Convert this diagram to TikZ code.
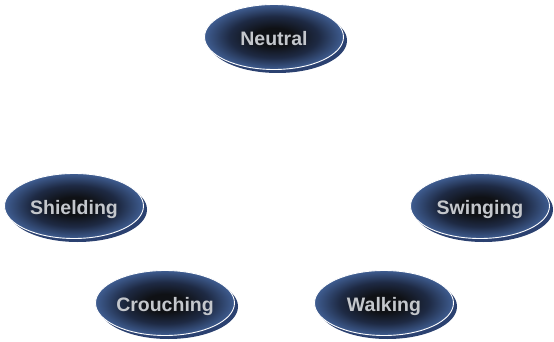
\documentclass[tikz,border=0pt]{standalone}
\usepackage{fontspec}
\setmainfont{Liberation Sans}
\usetikzlibrary{shapes.geometric}
\definecolor{edgeblue}{HTML}{3F5D91}
\definecolor{coreblack}{HTML}{0F1115}
\definecolor{midblue}{HTML}{1E2A44}
\definecolor{backblue}{HTML}{2B4170}
\definecolor{labelgrey}{HTML}{C4C7CC}
\pgfdeclareradialshading{ellshade}{\pgfpoint{0bp}{0bp}}{color(0bp)=(coreblack); color(7bp)=(coreblack); color(16bp)=(midblue); color(25bp)=(edgeblue); color(50bp)=(edgeblue)}
\tikzset{
  backell/.style={ellipse, minimum width=139pt, minimum height=65pt, inner sep=0pt, fill=backblue},
  state/.style={ellipse, minimum width=139pt, minimum height=65pt, inner sep=0pt,
    shading=ellshade, draw=white, line width=0.9pt, text height=17pt, text depth=0pt,
    text=labelgrey, font=\fontsize{19.5}{21}\selectfont\bfseries},
}
\begin{document}
\begin{tikzpicture}[x=1pt,y=-1pt]
\useasboundingbox (0,0) rectangle (554,342);
\node[backell] (neutralb) at (277.5,40.5) {};
\node[state] (neutral) at (274,37) {Neutral};
\node[backell] (shieldingb) at (77.5,209.5) {};
\node[state] (shielding) at (74,206) {Shielding};
\node[backell] (swingingb) at (483.5,209.5) {};
\node[state] (swinging) at (480,206) {Swinging};
\node[backell] (crouchingb) at (168.5,306.5) {};
\node[state] (crouching) at (165,303) {Crouching};
\node[backell] (walkingb) at (387.5,306.5) {};
\node[state] (walking) at (384,303) {Walking};
\end{tikzpicture}
\end{document}
